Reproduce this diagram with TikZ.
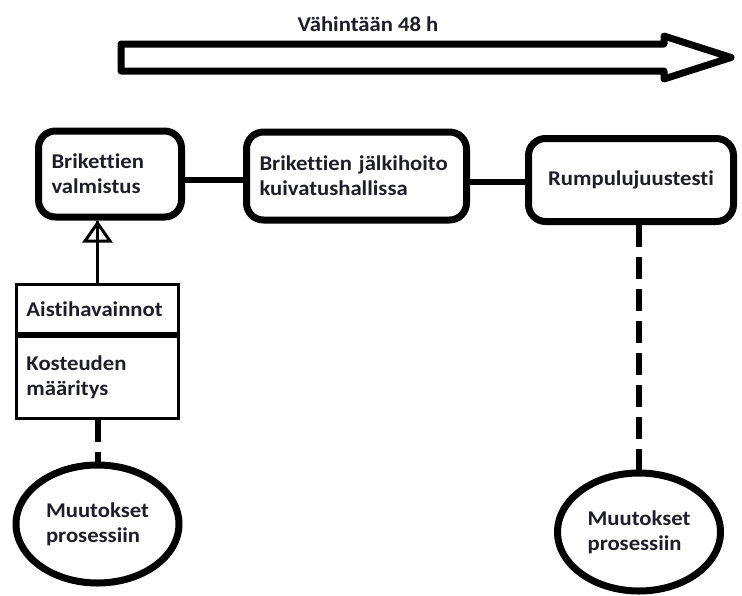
\documentclass[tikz,border=0pt]{standalone}
\usepackage{fontspec}
\setmainfont[FakeStretch=1.08, Ligatures=NoCommon]{Carlito}
\usetikzlibrary{arrows.meta,shapes.geometric}
\definecolor{txt}{HTML}{1E1E2A}
\tikzset{
  lbl/.style={font=\bfseries\fontsize{21}{25}\selectfont, text=txt},
  rbox/.style={lbl, draw, line width=7pt, rounded corners=17pt, inner sep=0pt},
  sbox/.style={lbl, draw, line width=3pt, inner sep=0pt, minimum width=162pt, text width=142pt, align=left},
  oval/.style={lbl, draw, ellipse, line width=7pt, inner sep=0pt, minimum width=163pt, minimum height=118pt, align=left},
  link/.style={line width=6.5pt},
  dashlink/.style={line width=6pt, dash pattern=on 22pt off 10pt},
  bigarrow/.style={line width=7pt, line join=round}
}
\begin{document}
\begin{tikzpicture}[x=1pt,y=-1pt]
\useasboundingbox (0,0) rectangle (742,595);
% big time arrow
\draw[bigarrow] (121,44) -- (664,44) -- (664,36) -- (731,57.5) -- (664,79) -- (664,71) -- (121,71) -- cycle;
\node[lbl] (title) at (368,24) {Vähintään 48 h};
% process boxes
\node[rbox, minimum width=143pt, minimum height=86pt, text width=117pt, align=left] (b1) at (110,174) {Brikettien\\valmistus};
\node[rbox, minimum width=220pt, minimum height=88pt, text width=194pt, align=left] (b2) at (356.5,176) {Brikettien jälkihoito\\kuivatushallissa};
\node[rbox, minimum width=205pt, minimum height=83pt, align=center] (b3) at (631,180) {Rumpulujuustesti};
\draw[link] ([yshift=-6pt]b1.east) -- ([yshift=-4pt]b2.west);
\draw[link] ([yshift=-6pt]b2.east) -- ([yshift=-2pt]b3.west);
% measurement box
\node[sbox, minimum height=48.5pt] (aist) at (97.5,308.75) {Aistihavainnot};
\node[sbox, minimum height=82pt, anchor=north] (kost) at (aist.south) {Kosteuden\\määritys};
\draw[line width=3pt] (aist.north) -- (b1.south -| aist.north);
\draw[line width=3pt, -{Triangle[open, length=22pt, width=30pt]}] (aist.north) -- (b1.south -| aist.north);
% change ovals
\node[oval] (e1) at (97.5,524) {Muutokset\\prosessiin};
\node[oval] (e2) at (639,532) {Muutokset\\prosessiin};
\draw[dashlink] (kost.south) -- (e1.north);
\draw[dashlink] (b3.south -| e2.north) -- (e2.north);
\end{tikzpicture}
\end{document}
